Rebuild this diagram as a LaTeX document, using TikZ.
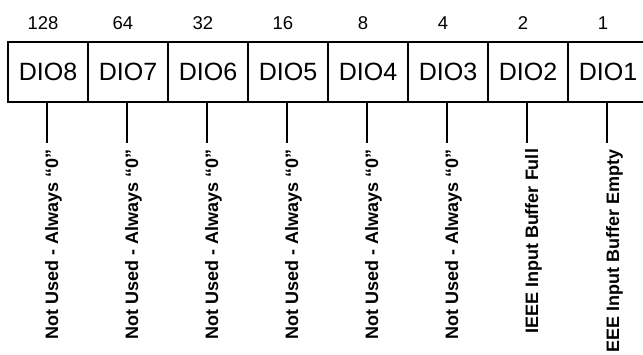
\documentclass[tikz,border=0pt]{standalone}
\usepackage{fontspec}
\setmainfont{Liberation Sans}
\begin{document}
\begin{tikzpicture}[x=1pt,y=-1pt,
  line width=2pt,
  cellbox/.style={draw, line width=2pt, minimum width=80pt, minimum height=60pt,
    inner sep=0pt, font=\fontsize{25}{30}\selectfont},
  weight/.style={anchor=base, inner sep=0pt, font=\fontsize{18.5}{22}\selectfont},
  bitlabel/.style={rotate=90, anchor=base east, inner sep=0pt,
    font=\bfseries\fontsize{18}{22}\selectfont}
]
\useasboundingbox (0,0) rectangle (643,354);
\clip (0,0) rectangle (643,354);
\fill[white] (0,0) rectangle (643,354);

% register cells, most significant bit on the left
\foreach \n/\w [count=\k from 0] in {8/128,7/64,6/32,5/16,4/8,3/4,2/2,1/1} {
  \node[cellbox] (d\n) at (48+80*\k,72) {DIO\n};
  \node[weight] (w\n) at (43+80*\k,29) {\w};
  \coordinate (t\n) at (47+80*\k,143);
}

% bit descriptions
\foreach \n in {8,7,6,5,4,3} {
  \node[bitlabel] (l\n) at ([xshift=11pt,yshift=-5pt]t\n) {Not Used - Always “0”};
}
\node[bitlabel] (l2) at ([xshift=11pt,yshift=-5pt]t2) {IEEE Input Buffer Full};
\node[bitlabel] (l1) at ([xshift=12pt,yshift=-5pt]t1) {EEE Input Buffer Empty};

% leader lines from each cell to its description
\foreach \n in {8,7,6,5,4,3,2,1} {
  \draw (d\n.south -| t\n) -- (t\n);
}
\end{tikzpicture}
\end{document}
